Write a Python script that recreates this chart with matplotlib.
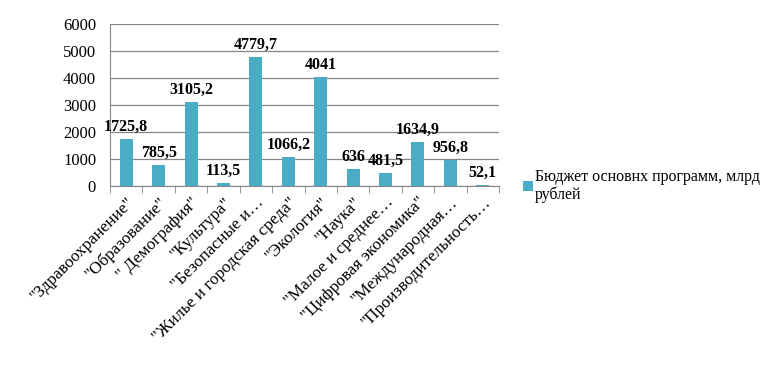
import matplotlib
matplotlib.use("Agg")
import matplotlib.pyplot as plt
import numpy as np

categories = ['"Здравоохранение"', '"Образование"', '" Демография"', '"Культура"',
              '"Безопасные и…', '"Жилье и городская среда"', '"Экология"', '"Наука"',
              '"Малое и среднее…', '"Цифровая экономика"', '"Международная…',
              '"Производительность…']
values = [1725.8, 785.5, 3105.2, 113.5, 4779.7, 1066.2, 4041, 636, 481.5, 1634.9, 956.8, 52.1]
value_labels = ["1725,8", "785,5", "3105,2", "113,5", "4779,7", "1066,2", "4041", "636",
                "481,5", "1634,9", "956,8", "52,1"]
series_name = "Бюджет основнх программ, млрд\nрублей"
yticks = [0, 1000, 2000, 3000, 4000, 5000, 6000]

plt.rcParams['font.family'] = ['Liberation Serif', 'DejaVu Serif']

fig = plt.figure(figsize=(7.78, 3.65), dpi=100)
ax = fig.add_axes([110/778, 1-186/365, 389/778, 162/365])

x = np.arange(len(categories))
bars = ax.bar(x, values, width=0.4, color='#4BACC6', zorder=3, label=series_name)

for xi, v, lab in zip(x, values, value_labels):
    ax.annotate(lab, (xi, v), xytext=(0, 3), textcoords='offset points',
                ha='center', va='bottom', fontsize=11.5, fontweight='bold')

ax.set_xlim(-0.5, len(categories) - 0.5)
ax.set_ylim(0, 6000)
ax.set_yticks(yticks)
ax.set_yticklabels([str(t) for t in yticks], fontsize=12)
ax.yaxis.grid(True, color='#868686', linewidth=0.9, zorder=0)
ax.tick_params(axis='y', length=0, pad=10)

ax.set_xticks(x)
ax.set_xticklabels(categories, rotation=45, ha='right', rotation_mode='anchor', fontsize=12.3)
ax.tick_params(axis='x', length=0, pad=6)
ax.set_xticks(np.arange(-0.5, len(categories)), minor=True)
ax.tick_params(axis='x', which='minor', length=5, color='#868686', direction='out')

for s in ['top', 'right']:
    ax.spines[s].set_visible(False)
ax.spines['left'].set_color('#868686')
ax.spines['bottom'].set_color('#868686')

leg = fig.legend(handles=[bars], labels=[series_name], loc='upper left',
                 bbox_to_anchor=(523/778, 1-169/365), frameon=False, fontsize=11.5,
                 handlelength=0.6, handleheight=0.6, handletextpad=0.15,
                 borderaxespad=0, borderpad=0, labelspacing=0.2)
for t in leg.get_texts():
    t.set_linespacing(1.1)

fig.savefig("out.png", dpi=100)
